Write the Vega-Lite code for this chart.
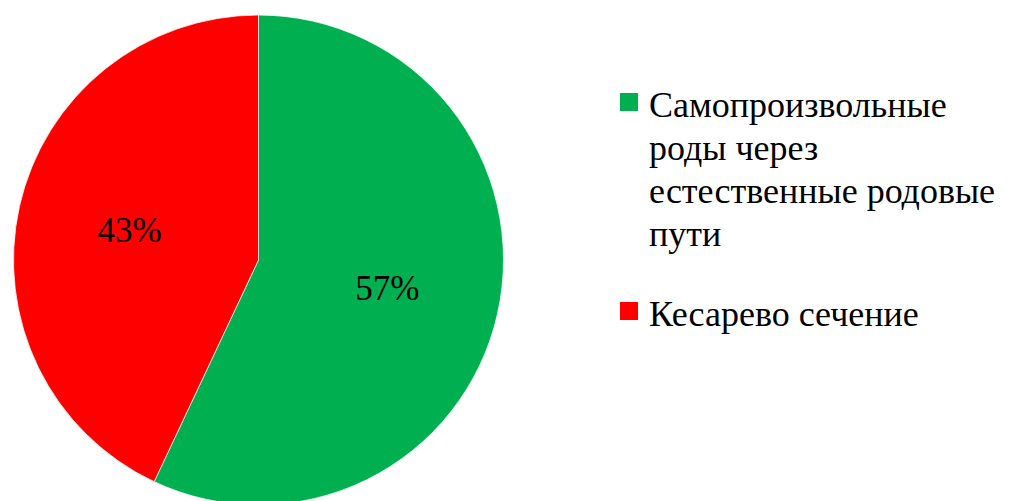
{
  "$schema": "https://vega.github.io/schema/vega-lite/v6.json",
  "width": 517,
  "height": 520,
  "padding": {"left": 0, "top": 0, "right": 494, "bottom": 0},
  "autosize": {"type": "none"},
  "background": "white",
  "view": {"stroke": null},
  "config": {
    "font": "'Liberation Serif', serif",
    "style": {"guide-label": {"font": "'Liberation Serif', serif", "lineHeight": 43, "dy": 15}}
  },
  "data": {
    "values": [
      {"category": "Самопроизвольные роды через естественные родовые пути", "value": 0.57},
      {"category": "Кесарево сечение", "value": 0.43}
    ]
  },
  "encoding": {
    "theta": {"field": "value", "type": "quantitative", "stack": true},
    "order": {"field": "value", "sort": "descending"},
    "color": {
      "field": "category",
      "type": "nominal",
      "scale": {
        "domain": ["Самопроизвольные роды через естественные родовые пути", "Кесарево сечение"],
        "range": ["#00B050", "#FF0000"]
      },
      "legend": {
        "title": null,
        "orient": "none",
        "legendX": 611,
        "legendY": 84,
        "symbolType": "square",
        "symbolSize": 324,
        "symbolStrokeWidth": 0,
        "labelFont": "'Liberation Serif', serif",
        "labelFontSize": 36,
        "labelColor": "#000000",
        "labelOffset": 2,
        "labelLimit": 500,
        "rowPadding": 40,
        "labelExpr": "datum.label == 'Самопроизвольные роды через естественные родовые пути' ? ['Самопроизвольные', 'роды через', 'естественные родовые', 'пути'] : datum.label",
        "labelBaseline": "alphabetic"
      }
    }
  },
  "layer": [
    {
      "mark": {"type": "arc", "outerRadius": 245, "stroke": "#ffffff", "strokeWidth": 0.75}
    },
    {
      "mark": {"type": "text", "radius": 132, "font": "'Liberation Serif', serif", "fontSize": 35, "color": "#000000"},
      "encoding": {
        "text": {"field": "value", "type": "quantitative", "format": ".0%"},
        "color": {"value": "#000000"}
      }
    }
  ]
}
